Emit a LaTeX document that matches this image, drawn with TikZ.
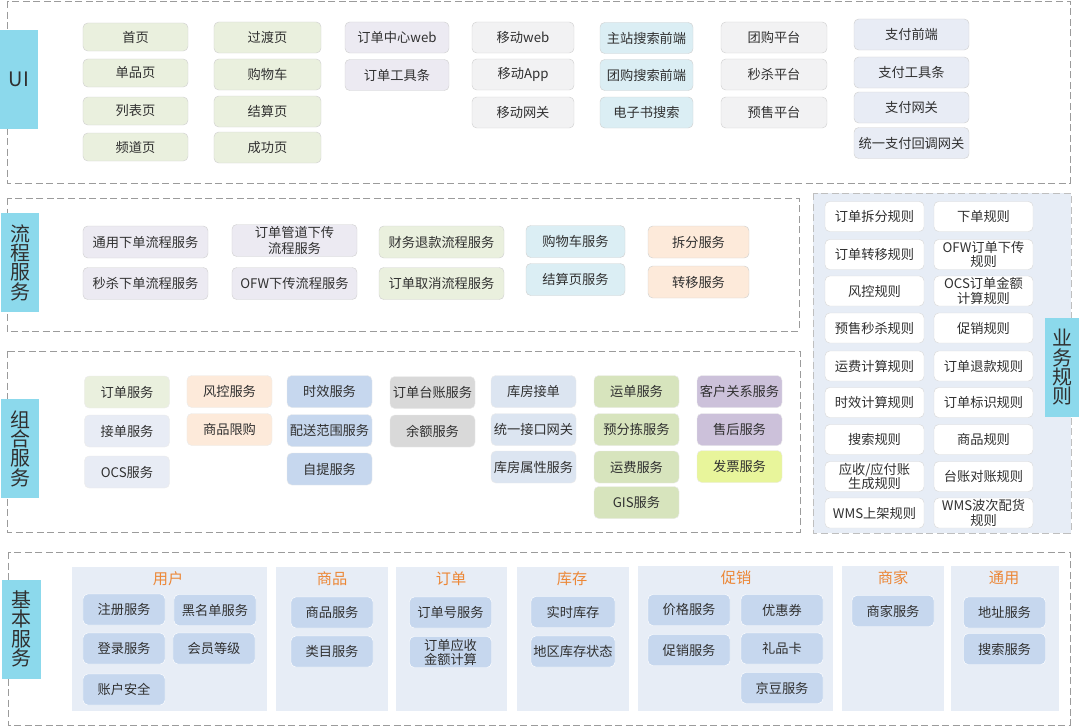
\documentclass[tikz,border=0pt]{standalone}
\usepackage{fontspec}
\setmainfont{Noto Sans CJK SC}
\usepackage{tikz}
\definecolor{txt}{RGB}{48,48,48}
\definecolor{barblue}{RGB}{140,217,236}
\definecolor{uigreen}{RGB}{234,240,222}
\definecolor{lav}{RGB}{236,234,242}
\definecolor{lgray}{RGB}{242,242,243}
\definecolor{sblue}{RGB}{219,238,244}
\definecolor{paygray}{RGB}{232,236,245}
\definecolor{peach}{RGB}{253,234,218}
\definecolor{midblue}{RGB}{198,215,238}
\definecolor{dgray}{RGB}{217,217,217}
\definecolor{wblue}{RGB}{220,229,241}
\definecolor{lgreen}{RGB}{215,228,189}
\definecolor{lpurple}{RGB}{204,193,218}
\definecolor{lyellow}{RGB}{232,245,155}
\definecolor{panel}{RGB}{231,237,246}
\definecolor{ttlorange}{RGB}{236,135,55}
\definecolor{dashgray}{RGB}{155,155,155}

\begin{document}
\begin{tikzpicture}[x=0.03cm,y=-0.03cm,
  box/.style={rounded corners=4pt,draw=black!18,inner sep=0pt,align=center,text=txt,font=\fontsize{11.3}{12.5}\selectfont},
  layer/.style={draw=dashgray,line width=0.8pt,dash pattern=on 6pt off 3pt},
  sidebar/.style={fill=barblue,inner sep=0pt,minimum width=1.14cm,minimum height=2.97cm,align=center,text=txt,font=\fontsize{17}{16.5}\selectfont},
  grptitle/.style={text=ttlorange,font=\fontsize{13}{15}\selectfont},
  ui1/.style={box,fill=uigreen,minimum width=3.15cm,minimum height=0.84cm},
  ui2/.style={box,fill=uigreen,minimum width=3.21cm,minimum height=0.93cm},
  ui3/.style={box,fill=lav,minimum width=3.12cm,minimum height=0.93cm},
  ui4/.style={box,fill=lgray,minimum width=3.06cm,minimum height=0.93cm},
  ui5/.style={box,fill=sblue,minimum width=2.79cm,minimum height=0.93cm},
  ui6/.style={box,fill=lgray,minimum width=3.18cm,minimum height=0.93cm},
  ui7/.style={box,fill=paygray,minimum width=3.45cm,minimum height=0.93cm},
  fl/.style={box,minimum width=3.75cm,minimum height=0.96cm},
  cb/.style={box,draw=black!8,minimum width=2.55cm,minimum height=0.96cm},
  rule/.style={box,fill=white,draw=black!15,minimum width=2.97cm,minimum height=0.9cm},
  bb/.style={box,draw=white,fill=midblue,minimum width=2.46cm,minimum height=0.93cm}]
  \useasboundingbox (0,0) rectangle (1080,727);

  % layers
  \draw[layer] (7,1) rectangle (1070,183);
  \draw[layer] (7,198) rectangle (799,331);
  \draw[layer] (7,351) rectangle (800,532);
  \draw[layer,draw=black!25,fill=panel] (813,193) rectangle (1071,533);
  \draw[layer] (8,552) rectangle (1070,725);

  % UI
  \node[ui1] (home) at (135.5,37) {首页};
  \node[ui1] (itempage) at (135.5,73) {单品页};
  \node[ui1] (listpage) at (135.5,111) {列表页};
  \node[ui1] (channel) at (135.5,147) {频道页};
  \node[ui2] (transit) at (267.5,37.5) {过渡页};
  \node[ui2] (cart) at (267.5,74.5) {购物车};
  \node[ui2] (checkout) at (267.5,111.5) {结算页};
  \node[ui2] (success) at (267.5,147.5) {成功页};
  \node[ui3] (orderweb) at (397,37.5) {订单中心web};
  \node[ui3] (orderbar) at (397,75) {订单工具条};
  \node[ui4] (mweb) at (523,37.5) {移动web};
  \node[ui4] (mapp) at (523,74.5) {移动App};
  \node[ui4] (mgate) at (523,112.5) {移动网关};
  \node[ui5] (mainsearch) at (646.5,38) {主站搜索前端};
  \node[ui5] (groupsearch) at (646.5,75) {团购搜索前端};
  \node[ui5] (ebooksearch) at (646.5,112.5) {电子书搜索};
  \node[ui6] (groupbuy) at (774,37.5) {团购平台};
  \node[ui6] (seckill) at (774,74.5) {秒杀平台};
  \node[ui6] (presale) at (774,112.5) {预售平台};
  \node[ui7] (payfront) at (911.5,34.5) {支付前端};
  \node[ui7] (paybar) at (911.5,72.5) {支付工具条};
  \node[ui7] (paygate) at (911.5,107.5) {支付网关};
  \node[ui7] (paycallback) at (911.5,143) {统一支付回调网关};

  % flow services
  \node[fl,fill=lav] (normalorder) at (145.5,242) {通用下单流程服务};
  \node[fl,fill=lav] (seckillorder) at (145.5,283.5) {秒杀下单流程服务};
  \node[fl,fill=lav,font=\fontsize{11.3}{13.6}\selectfont] (pipeline) at (294.5,240.5) {订单管道下传\\流程服务};
  \node[fl,fill=lav] (ofwflow) at (294.5,283.5) {OFW下传流程服务};
  \node[fl,fill=uigreen] (refundflow) at (441.5,242) {财务退款流程服务};
  \node[fl,fill=uigreen] (cancelflow) at (441.5,283.5) {订单取消流程服务};
  \node[fl,fill=sblue,minimum width=2.97cm] (cartsvc) at (575.5,241.5) {购物车服务};
  \node[fl,fill=sblue,minimum width=2.97cm] (checkoutsvc) at (575.5,279.5) {结算页服务};
  \node[fl,fill=peach,minimum width=3.03cm] (splitsvc) at (698.5,242) {拆分服务};
  \node[fl,fill=peach,minimum width=3.03cm] (transfersvc) at (698.5,282) {转移服务};

  % combined services
  \node[cb,fill=uigreen] (ordersvc) at (127,392) {订单服务};
  \node[cb,fill=paygray] (acceptsvc) at (127,431) {接单服务};
  \node[cb,fill=paygray] (ocssvc) at (127,472) {OCS服务};
  \node[cb,fill=peach] (risksvc) at (229.5,391.5) {风控服务};
  \node[cb,fill=peach] (limitsvc) at (229.5,429.5) {商品限购};
  \node[cb,fill=midblue] (timesvc) at (329.5,391.5) {时效服务};
  \node[cb,fill=midblue] (rangesvc) at (329.5,430.5) {配送范围服务};
  \node[cb,fill=midblue] (pickupsvc) at (329.5,469) {自提服务};
  \node[cb,fill=dgray] (ledgersvc) at (432.5,392.5) {订单台账服务};
  \node[cb,fill=dgray] (balancesvc) at (432.5,431) {余额服务};
  \node[cb,fill=wblue] (whaccept) at (533.5,391.5) {库房接单};
  \node[cb,fill=wblue] (apigate) at (533.5,429.5) {统一接口网关};
  \node[cb,fill=wblue] (whattr) at (533.5,467) {库房属性服务};
  \node[cb,fill=lgreen] (waybill) at (636.5,391.5) {运单服务};
  \node[cb,fill=lgreen] (presort) at (636.5,429.5) {预分拣服务};
  \node[cb,fill=lgreen] (freight) at (636.5,467) {运费服务};
  \node[cb,fill=lgreen] (gissvc) at (636.5,502.5) {GIS服务};
  \node[cb,fill=lpurple] (crmsvc) at (739.5,391.5) {客户关系服务};
  \node[cb,fill=lpurple] (aftersale) at (739.5,429.5) {售后服务};
  \node[cb,fill=lyellow] (invoice) at (739.5,466.5) {发票服务};

  % business rules
  \node[rule] (splitrule) at (874.5,216.5) {订单拆分规则};
  \node[rule] (transrule) at (874.5,254.5) {订单转移规则};
  \node[rule] (riskrule) at (874.5,291) {风控规则};
  \node[rule] (presalerule) at (874.5,328) {预售秒杀规则};
  \node[rule] (freightrule) at (874.5,366) {运费计算规则};
  \node[rule] (timerule) at (874.5,402.5) {时效计算规则};
  \node[rule] (searchrule) at (874.5,439.5) {搜索规则};
  \node[rule] (arrule) at (874.5,476.5) {应收/应付账\\生成规则};
  \node[rule] (shelfrule) at (874.5,513) {WMS上架规则};
  \node[rule] (orderrule) at (983.5,216.5) {下单规则};
  \node[rule] (ofwrule) at (983.5,254.5) {OFW订单下传\\规则};
  \node[rule] (ocsrule) at (983.5,291) {OCS订单金额\\计算规则};
  \node[rule] (promorule) at (983.5,328) {促销规则};
  \node[rule] (refundrule) at (983.5,366) {订单退款规则};
  \node[rule] (flagrule) at (983.5,402.5) {订单标识规则};
  \node[rule] (itemrule) at (983.5,439.5) {商品规则};
  \node[rule] (reconrule) at (983.5,476.5) {台账对账规则};
  \node[rule] (waverule) at (983.5,513) {WMS波次配货\\规则};

  % basic services
  \fill[panel] (72,567) rectangle (267,711);
  \fill[panel] (276,567) rectangle (388,711);
  \fill[panel] (396,567) rectangle (507,711);
  \fill[panel] (517,567) rectangle (629,711);
  \fill[panel] (638,566) rectangle (833,711);
  \fill[panel] (842,566) rectangle (944,711);
  \fill[panel] (951,566) rectangle (1059,711);
  \node[grptitle] (usertitle) at (168,579) {用户};
  \node[grptitle] (goodstitle) at (332,579) {商品};
  \node[grptitle] (ordertitle) at (451,579) {订单};
  \node[grptitle] (stocktitle) at (572,579) {库存};
  \node[grptitle] (promotitle) at (736,578) {促销};
  \node[grptitle] (shoptitle) at (893,578) {商家};
  \node[grptitle] (commontitle) at (1004,578) {通用};
  \node[bb] (register) at (124,609.5) {注册服务};
  \node[bb] (blacklist) at (215,610) {黑名单服务};
  \node[bb] (login) at (124,648.5) {登录服务};
  \node[bb] (level) at (214,648.5) {会员等级};
  \node[bb] (account) at (124,689.5) {账户安全};
  \node[bb] (goodssvc) at (332,612.5) {商品服务};
  \node[bb] (category) at (332,651.5) {类目服务};
  \node[bb] (orderno) at (450.5,612.5) {订单号服务};
  \node[bb,font=\fontsize{11.3}{11.9}\selectfont] (receivable) at (450.5,652) {订单应收\\金额计算};
  \node[bb,minimum width=2.52cm] (realstock) at (573,612) {实时库存};
  \node[bb,minimum width=2.52cm] (areastock) at (573,651.5) {地区库存状态};
  \node[bb] (price) at (689,610) {价格服务};
  \node[bb] (promosvc) at (689,650) {促销服务};
  \node[bb] (coupon) at (782,610) {优惠券};
  \node[bb] (giftcard) at (782,648.5) {礼品卡};
  \node[bb] (jingdou) at (782,688) {京豆服务};
  \node[bb] (merchant) at (893,611) {商家服务};
  \node[bb] (address) at (1004.5,612.5) {地址服务};
  \node[bb] (searchsvc) at (1004.5,649) {搜索服务};

  % side labels
  \node[sidebar] (uilabel) at (19,79.5) {UI};
  \node[sidebar] (flowlabel) at (20,262.5) {流\\程\\服\\务};
  \node[sidebar] (combolabel) at (20,448.5) {组\\合\\服\\务};
  \node[sidebar] (baselabel) at (21.5,629) {基\\本\\服\\务};
  \node[sidebar,minimum width=1.02cm] (rulelabel) at (1062,367.5) {业\\务\\规\\则};
\end{tikzpicture}
\end{document}
